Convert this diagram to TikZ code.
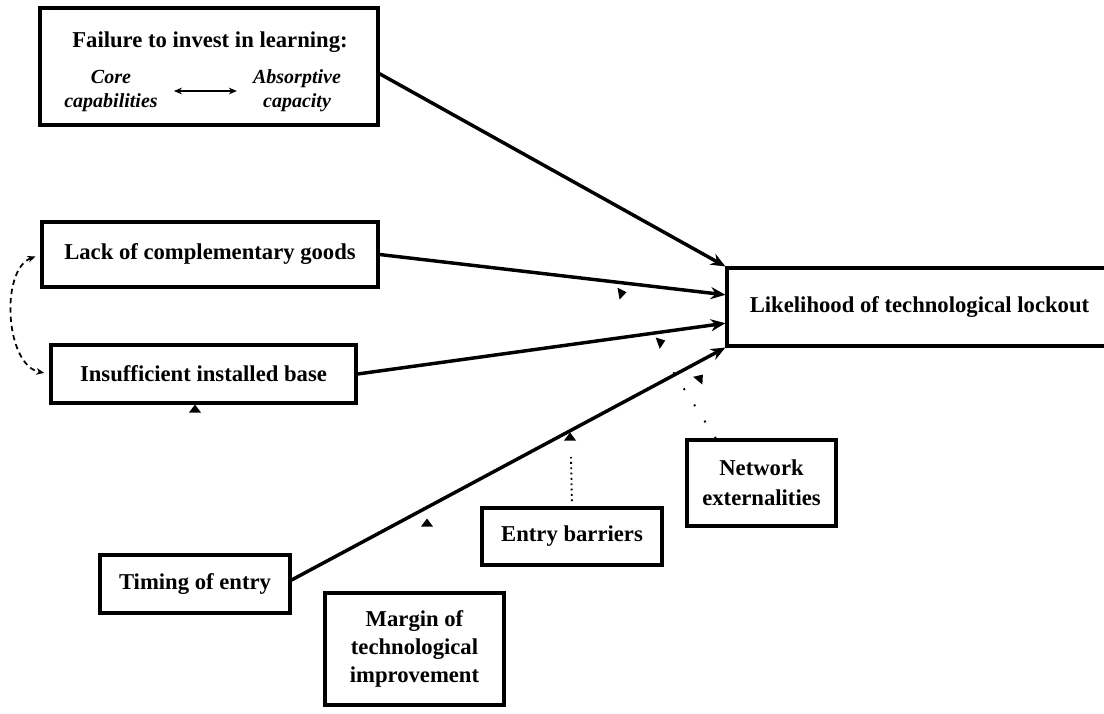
\documentclass[tikz,border=0pt]{standalone}
\usepackage{fontspec}
\setmainfont{Liberation Serif}
\usetikzlibrary{arrows.meta,calc}
\begin{document}
\begin{tikzpicture}[x=0.75pt,y=-0.75pt,
  box/.style={draw, line width=2.3pt, inner sep=0pt, align=center,
    font=\fontsize{17}{21}\selectfont\bfseries},
  sz/.style 2 args={minimum width=#1*0.75pt, minimum height=#2*0.75pt},
  lbl/.style={inner sep=0pt, align=center, font=\fontsize{17}{21}\selectfont\bfseries},
  ital/.style={inner sep=0pt, align=center, font=\fontsize{15}{18}\selectfont\bfseries\itshape},
  arr/.style={line width=2.6pt, -{Stealth[length=11pt,width=9pt]}},
  dbl/.style={line width=1.6pt, {Stealth[length=6pt,width=5pt]}-{Stealth[length=6pt,width=5pt]}},
  dsh/.style={line width=1.3pt, dash pattern=on 4pt off 3pt,
    {Stealth[length=6pt,width=5pt]}-{Stealth[length=6pt,width=5pt]}},
  dotline/.style={line width=1.4pt, dash pattern=on 1.4pt off 2.6pt},
  loosedot/.style={line width=1.4pt, dash pattern=on 1.4pt off 13pt},
  tri/.pic={\fill (0,-4.5) -- (6,3.5) -- (-6,3.5) -- cycle;}
]
\useasboundingbox (0,0) rectangle (1104,714);
\clip (0,0) rectangle (1104,714);

% boxes
\node[box, sz={338}{117}] (fail) at (209,66.5) {};
\node[lbl] (title) at (210,42) {Failure to invest in learning:};
\node[ital] (core) at (111,91) {Core\\capabilities};
\node[ital] (abs) at (297,91) {Absorptive\\capacity};

\node[box, sz={336}{65}] (lack) at (210,254.5) {Lack of complementary goods};
\node[box, sz={305}{58}] (ins) at (203.5,374) {Insufficient installed base};
\node[box, sz={385}{78}] (lik) at (919.5,307) {Likelihood of technological lockout};
\node[box, sz={190}{58}] (tim) at (195,584) {Timing of entry};
\node[box, sz={180}{57}] (eb) at (572,536.5) {Entry barriers};
\node[box, sz={149}{86}, font=\fontsize{17}{22.5}\selectfont\bfseries] (net) at (761.5,483) {Network\\externalities};
\node[box, sz={179}{112}] (mar) at (414.5,649) {Margin of\\technological\\improvement};

% double arrow inside the first box
\draw[dbl, shorten <=12pt, shorten >=12pt] (core.east) -- (abs.west);

% main arrows
\draw[arr] ($(fail.north east)!0.56!(fail.south east)$) -- (lik.north west);
\draw[arr] (lack.east) -- ($(lik.north west)!0.35!(lik.south west)$);
\draw[arr] (ins.east) -- ($(lik.north west)!0.70!(lik.south west)$);
\draw[arr] ([yshift=3pt]tim.east) -- (lik.south west);

% dashed feedback
\draw[dsh, shorten <=4pt, shorten >=4pt] (lack.west) .. controls (0,270) and (5,365) .. (ins.west);

% dotted lines
\coordinate (ebt) at (571,457);
\draw[dotline, shorten <=4pt] (eb.north) -- (ebt);
\coordinate (nt) at (670,367);
\draw[loosedot] ($(net.north west)!0.2!(net.north east)$) -- (nt);

% small triangles
\pic at (195,409) {tri};
\pic at (427,523) {tri};
\pic at (570,437) {tri};
\pic[rotate=-80] at (622,293) {tri};
\pic[rotate=-70] at (661,342) {tri};
\pic[rotate=-40] at (700,378) {tri};
\end{tikzpicture}
\end{document}
